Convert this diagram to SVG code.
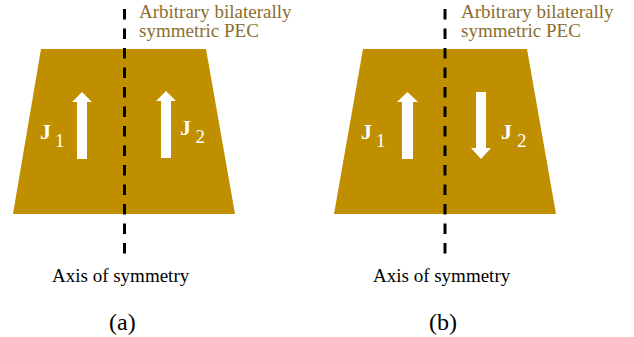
<svg xmlns="http://www.w3.org/2000/svg" width="634" height="337" viewBox="0 0 634 337">
  <style>
    .pec { fill: #BF8F00; }
    .axis { stroke: #000; stroke-width: 3; stroke-dasharray: 10.5 9; fill: none; }
    .arrow { fill: #fff; }
    text { font-family: 'Liberation Serif', 'Times New Roman', Times, serif; }
    .cur { fill: #fff; }
    .j { font-weight: bold; font-size: 22px; }
    .s { font-size: 19px; }
    .note { font-size: 19px; fill: #8A6E2F; }
    .lbl { font-size: 19px; fill: #000; }
    .cap { font-size: 24px; fill: #000; }
  </style>

  <!-- Panel (a): both currents pointing up -->
  <g id="panel-a">
    <g id="pec-a">
      <polygon class="pec" points="41,49 206,49 235,214 13,214"/>
    </g>
    <g id="j1-a">
      <polygon class="arrow" points="77,159 77,102 72,102 82,92 92,102 87,102 87,159"/>
      <text class="cur j" x="40" y="139">J</text>
      <text class="cur s" x="55" y="147">1</text>
    </g>
    <g id="j2-a">
      <polygon class="arrow" points="161,158 161,101 156,101 166,91 176,101 171,101 171,158"/>
      <text class="cur j" x="180" y="135">J</text>
      <text class="cur s" x="195.5" y="143">2</text>
    </g>
    <text class="note" x="139" y="17.5">Arbitrary bilaterally</text>
    <text class="note" x="139" y="37">symmetric PEC</text>
    <text class="lbl" x="52" y="282">Axis of symmetry</text>
    <text class="cap" x="109" y="330">(a)</text>
  </g>

  <!-- Panel (b): currents pointing in opposite directions -->
  <g id="panel-b">
    <g id="pec-b">
      <polygon class="pec" points="363,49 527,49 556,214 334,214"/>
    </g>
    <g id="j1-b">
      <polygon class="arrow" points="402,159 402,102 397,102 407.5,92 418,102 413,102 413,159"/>
      <text class="cur j" x="361" y="139">J</text>
      <text class="cur s" x="376" y="147">1</text>
    </g>
    <g id="j2-b">
      <polygon class="arrow" points="476,92 486,92 486,148 491,148 481,159 471,148 476,148"/>
      <text class="cur j" x="501" y="139">J</text>
      <text class="cur s" x="517" y="147">2</text>
    </g>
    <text class="note" x="461" y="17.5">Arbitrary bilaterally</text>
    <text class="note" x="461" y="37">symmetric PEC</text>
    <text class="lbl" x="373" y="282">Axis of symmetry</text>
    <text class="cap" x="429" y="330">(b)</text>
  </g>

  <!-- Symmetry axes -->
  <g id="connectors">
    <line class="axis" x1="124.5" y1="9" x2="124.5" y2="254"/>
    <line class="axis" x1="445" y1="9" x2="445" y2="254"/>
  </g>
</svg>
